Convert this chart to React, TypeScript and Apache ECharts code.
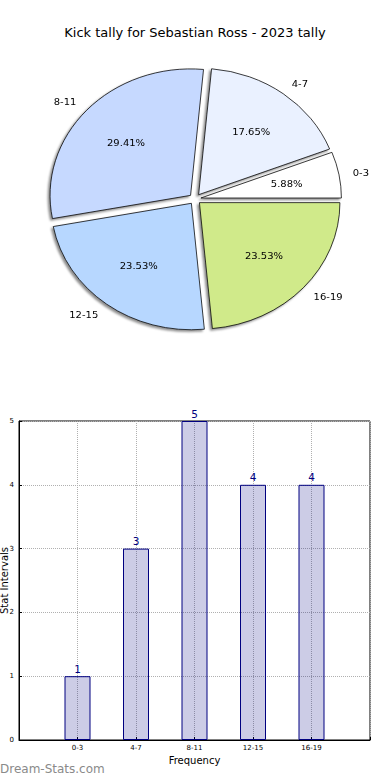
import React, { useEffect, useRef } from 'react';
import * as echarts from 'echarts';

const titleText = 'Kick tally for Sebastian Ross - 2023 tally';
const categories = ['0-3', '4-7', '8-11', '12-15', '16-19'];
const counts = [1, 3, 5, 4, 4];
const sliceColors = ['#ffffff', '#eaf1ff', '#c6d9ff', '#b7d7ff', '#d0ea8a'];
const xAxisName = 'Frequency';
const yAxisName = 'Stat Intervals';
const watermark = 'Dream-Stats.com';

const FONT = 'DejaVu Sans';
const PIE_CX = 195;
const PIE_CY = 199;
const PIE_R = 140.5;
const PIE_SCALE_Y = 0.9;

function PieChart() {
  const ref = useRef<HTMLDivElement>(null);
  useEffect(() => {
    if (!ref.current) return;
    const chart = echarts.init(ref.current, undefined, { renderer: 'svg' });
    const shapeData = categories.map((c, i) => ({
      name: c,
      value: counts[i],
      selected: true,
      itemStyle: { color: sliceColors[i] },
    }));
    const labelData = categories.map((c, i) => ({ name: c, value: counts[i], selected: true }));
    chart.setOption({
      animation: false,
      series: [
        {
          type: 'pie',
          center: [PIE_CX, PIE_CY],
          radius: PIE_R,
          startAngle: 0,
          clockwise: false,
          selectedMode: 'multiple',
          selectedOffset: 6,
          avoidLabelOverlap: false,
          silent: true,
          data: shapeData,
          itemStyle: {
            borderColor: '#000',
            borderWidth: 0.8,
            shadowBlur: 2,
            shadowOffsetX: -2,
            shadowOffsetY: 2,
            shadowColor: 'rgba(0,0,0,0.45)',
          },
          select: { itemStyle: { borderColor: '#000', borderWidth: 0.8 } },
          label: {
            show: true,
            position: 'outside',
            formatter: '{b}',
            fontSize: 10,
            color: '#000',
            fontFamily: FONT,
            distanceToLabelLine: 0,
          },
          labelLine: { show: false, length: 14, length2: 0 },
        },
        {
          type: 'pie',
          center: [PIE_CX, PIE_CY],
          radius: PIE_R * 1.2,
          startAngle: 0,
          clockwise: false,
          selectedMode: 'multiple',
          selectedOffset: 6,
          avoidLabelOverlap: false,
          silent: true,
          data: labelData,
          itemStyle: { color: 'rgba(0,0,0,0)', borderWidth: 0 },
          select: { itemStyle: { color: 'rgba(0,0,0,0)', borderWidth: 0 } },
          label: {
            show: true,
            position: 'inside',
            formatter: '{d}%',
            fontSize: 10,
            color: '#000',
            fontFamily: FONT,
          },
          labelLine: { show: false },
        },
      ],
    });
    return () => chart.dispose();
  }, []);
  return (
    <div
      ref={ref}
      style={{
        position: 'absolute',
        left: 0,
        top: 0,
        width: 390,
        height: 400,
        transform: `scaleY(${PIE_SCALE_Y})`,
        transformOrigin: `${PIE_CX}px ${PIE_CY}px`,
        pointerEvents: 'none',
      }}
    />
  );
}

function BarChart() {
  const ref = useRef<HTMLDivElement>(null);
  useEffect(() => {
    if (!ref.current) return;
    const chart = echarts.init(ref.current, undefined, { renderer: 'svg' });
    chart.setOption({
      animation: false,
      title: {
        text: titleText,
        left: 'center',
        top: 21,
        textStyle: { fontSize: 13, fontWeight: 'normal', color: '#000', fontFamily: FONT },
      },
      grid: {
        left: 19,
        right: 20,
        top: 421,
        bottom: 40,
        show: true,
        borderColor: '#000',
        borderWidth: 1,
        backgroundColor: 'transparent',
        outerBoundsMode: 'none',
        containLabel: false,
      },
      xAxis: {
        type: 'value',
        min: -1,
        max: 5,
        interval: 1,
        name: xAxisName,
        nameLocation: 'middle',
        nameGap: 15,
        nameTextStyle: { fontSize: 10, color: '#000', fontFamily: FONT },
        axisLine: { show: true, onZero: false, lineStyle: { color: '#000' } },
        axisTick: { show: true, inside: true, length: 3, lineStyle: { color: '#000' } },
        axisLabel: {
          fontSize: 7,
          color: '#000',
          margin: 4,
          fontFamily: FONT,
          formatter: (v: number) => (Number.isInteger(v) && categories[v] ? categories[v] : ''),
        },
        splitLine: { show: true, lineStyle: { type: 'dotted', color: '#b0b0b0' } },
      },
      yAxis: {
        type: 'value',
        min: 0,
        max: 5,
        interval: 1,
        name: yAxisName,
        nameLocation: 'middle',
        nameGap: 10,
        nameMoveOverlap: false,
        nameTextStyle: { fontSize: 10, color: '#000', fontFamily: FONT },
        axisLine: { show: true, onZero: false, lineStyle: { color: '#000' } },
        axisTick: { show: true, inside: true, length: 3, lineStyle: { color: '#000' } },
        axisLabel: { fontSize: 7, color: '#000', margin: 5, fontFamily: FONT },
        splitLine: { show: true, lineStyle: { type: 'dotted', color: '#b0b0b0' } },
      },
      series: [
        {
          type: 'bar',
          data: counts.map((v, i) => [i, v]),
          barWidth: 26,
          itemStyle: { color: 'rgba(0,0,128,0.2)', borderColor: '#000080', borderWidth: 1 },
          label: {
            show: true,
            position: 'top',
            distance: 2,
            fontSize: 10.5,
            color: '#000080',
            fontFamily: FONT,
          },
          silent: true,
        },
      ],
      graphic: [
        {
          type: 'text',
          left: 0,
          top: 763,
          style: { text: watermark, fontSize: 12, fill: '#8a8a8a', fontFamily: FONT },
        },
      ],
    });
    return () => chart.dispose();
  }, []);
  return <div ref={ref} style={{ position: 'absolute', left: 0, top: 0, width: 390, height: 780 }} />;
}

export default function App() {
  return (
    <div style={{ position: 'fixed', left: 0, top: 0, width: 390, height: 780, background: '#fff' }}>
      <BarChart />
      <PieChart />
    </div>
  );
}
